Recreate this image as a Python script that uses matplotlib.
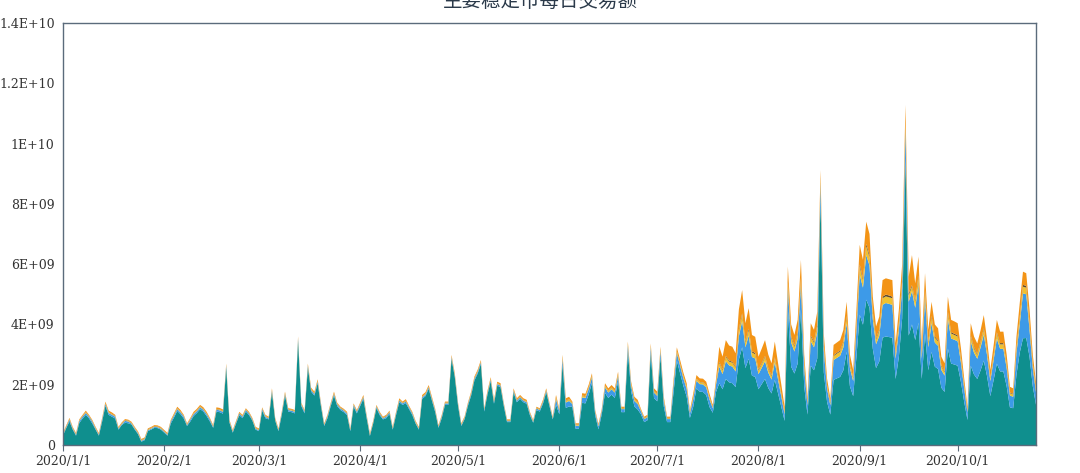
import matplotlib
matplotlib.use("Agg")
import matplotlib.pyplot as plt
import pandas as pd
import numpy as np

# daily volume, unit: 1e8 USD, from 2020/1/1
start_date = "2020-01-01"

teal = [
    3.1, 5.6, 7.8, 5.1, 3.1, 7.3, 8.8, 10.0, 8.8, 7.1,
    5.1, 3.1, 7.8, 13.0, 10.0, 9.4, 8.8, 5.1, 6.6, 7.4,
    7.2, 6.8, 5.1, 3.6, 1.1, 1.6, 4.6, 5.1, 5.7, 5.6,
    5.1, 4.1, 3.1, 7.1, 9.1, 11.3, 10.2, 8.8, 6.3, 7.8,
    9.6, 10.6, 11.9, 11.1, 9.6, 7.8, 5.7, 11.1, 10.9, 10.4,
    25.6, 7.4, 4.1, 7.1, 9.9, 8.9, 11.1, 9.9, 8.1, 5.1,
    4.6, 11.4, 8.9, 8.5, 17.5, 8.1, 4.6, 9.9, 16.4, 11.1,
    10.9, 10.5, 34.7, 12.9, 10.5, 25.7, 17.7, 16.4, 20.5, 12.9,
    6.3, 8.9, 12.9, 16.4, 12.9, 11.6, 10.9, 9.9, 4.6, 12.7,
    10.5, 12.9, 15.3, 8.9, 3.0, 7.1, 12.2, 9.9, 8.5, 8.9,
    10.3, 5.1, 9.9, 14.2, 13.3, 13.9, 11.9, 9.9, 7.1, 5.1,
    15.3, 16.2, 18.6, 14.7, 10.9, 5.7, 8.9, 13.3, 13.3, 28.6,
    22.5, 12.9, 6.3, 8.6, 12.9, 16.4, 21.4, 23.7, 26.9, 11.1,
    16.7, 21.2, 13.7, 19.7, 19.2, 12.9, 7.6, 7.6, 17.5, 14.2,
    15.3, 14.2, 13.7, 9.9, 7.4, 11.6, 11.1, 13.7, 17.5, 12.9,
    8.5, 13.4, 10.2, 26.7, 12.3, 12.8, 12.6, 5.4, 5.4, 14.0,
    13.8, 16.8, 20.6, 9.8, 5.2, 10.2, 17.3, 15.6, 16.7, 15.6,
    21.1, 10.9, 10.9, 31.1, 17.8, 12.8, 11.8, 10.2, 7.6, 8.2,
    30.5, 15.6, 14.5, 29.4, 12.8, 7.6, 7.6, 17.6, 28.0, 23.8,
    19.6, 16.1, 9.0, 12.6, 18.8, 17.7, 17.6, 16.6, 12.6, 10.7,
    17.6, 20.5, 18.5, 21.9, 20.8, 20.5, 19.2, 28.4, 32.4, 25.5,
    28.6, 23.0, 22.6, 18.5, 20.2, 21.9, 18.9, 17.1, 21.6, 17.1,
    12.6, 8.0, 45.0, 26.0, 23.7, 27.0, 45.0, 19.5, 10.1, 26.3,
    24.8, 28.7, 82.0, 24.1, 14.3, 10.1, 21.6, 22.1, 22.6, 24.8,
    30.9, 19.5, 16.2, 29.3, 43.2, 39.9, 48.2, 45.5, 32.0, 25.5,
    27.7, 35.6, 36.0, 35.8, 35.6, 21.9, 29.3, 42.0, 95.0, 36.3,
    40.0, 34.8, 40.6, 21.9, 37.1, 24.8, 30.9, 26.0, 25.2, 19.0,
    17.6, 32.0, 27.0, 26.7, 26.3, 20.9, 14.3, 8.3, 26.3, 23.4,
    21.9, 24.7, 28.0, 22.8, 16.2, 21.5, 27.0, 24.4, 24.4, 19.5,
    12.5, 12.2, 23.3, 30.6, 35.4, 35.5, 29.3, 19.5, 13.3,
]

blue = [
    .3, .3, .6, .3, .3, .6, .6, .6, .6, .6,
    .3, .3, .6, .6, .6, .6, .6, .3, .3, .6,
    .6, .3, .3, .3, .3, .3, .3, .3, .3, .3,
    .3, .3, .3, .6, .6, .6, .6, .6, .3, .6,
    .6, .6, .6, .6, .6, .6, .3, .6, .6, .6,
    .6, .3, .3, .3, .5, .5, .5, .5, .3, .3,
    .3, .5, .5, .3, .5, .3, .3, .5, .5, .5,
    .5, .5, .5, .5, .5, .5, .5, .5, .5, .5,
    .3, .5, .5, .5, .5, .5, .5, .5, .3, .5,
    .5, .5, .5, .5, .3, .3, .5, .5, .3, .5,
    .5, .3, .5, .5, .5, .5, .5, .5, .3, .3,
    .5, .5, .5, .5, .5, .3, .5, .5, .5, .5,
    .5, .5, .3, .3, .5, .5, .5, .5, .5, .5,
    .5, .5, .5, .5, .5, .5, .3, .3, .5, .5,
    .5, .5, .5, .5, .3, .5, .5, .5, .5, .5,
    .3, 1.8, 1.0, 1.8, 1.8, 1.8, 1.0, 1.0, 1.0, 1.8,
    1.8, 1.8, 1.8, 1.0, 1.0, 1.0, 1.8, 1.8, 1.8, 1.8,
    1.8, 1.0, 1.0, 1.8, 1.8, 1.8, 1.8, 1.0, 1.0, 1.0,
    1.8, 1.8, 1.8, 1.8, 1.8, 1.0, 1.0, 2.5, 2.5, 2.5,
    2.5, 2.5, 1.5, 2.5, 2.5, 2.5, 2.5, 2.5, 2.5, 1.5,
    2.5, 5.5, 5.0, 5.9, 5.6, 5.5, 5.2, 7.7, 8.7, 6.9,
    7.7, 6.2, 6.1, 5.0, 5.4, 5.9, 5.1, 4.6, 5.8, 4.6,
    3.4, 2.2, 7.0, 8.0, 7.3, 8.3, 8.0, 6.0, 3.1, 8.1,
    7.6, 8.8, 5.0, 7.4, 4.4, 3.1, 6.6, 6.8, 7.0, 7.6,
    9.5, 6.0, 5.0, 9.0, 13.3, 12.3, 14.8, 14.0, 9.8, 7.9,
    8.5, 10.9, 11.1, 11.0, 10.9, 6.7, 9.0, 10.0, 10.0, 11.2,
    11.0, 10.7, 12.5, 6.7, 11.4, 7.6, 9.5, 8.0, 7.7, 5.9,
    5.4, 9.8, 8.3, 8.2, 8.1, 6.4, 4.4, 2.5, 8.1, 7.2,
    6.7, 7.6, 8.6, 7.0, 5.0, 6.6, 8.3, 7.5, 7.5, 6.0,
    3.9, 3.8, 7.2, 9.4, 14.9, 14.5, 9.0, 6.0, 4.1,
]

yellow = [
    .2, .2, .2, .2, .2, .2, .2, .2, .2, .2,
    .2, .2, .2, .2, .2, .2, .2, .2, .2, .2,
    .2, .2, .2, .2, .2, .2, .2, .2, .2, .2,
    .2, .2, .2, .2, .2, .2, .2, .2, .2, .2,
    .2, .2, .2, .2, .2, .2, .2, .2, .2, .2,
    .2, .2, .2, .2, .2, .2, .2, .2, .2, .2,
    .2, .2, .2, .2, .2, .2, .2, .2, .2, .2,
    .2, .2, .2, .2, .2, .2, .2, .2, .2, .2,
    .2, .2, .2, .2, .2, .2, .2, .2, .2, .2,
    .2, .2, .2, .2, .2, .2, .2, .2, .2, .2,
    .2, .2, .2, .2, .2, .2, .2, .2, .2, .2,
    .2, .2, .2, .2, .2, .2, .2, .2, .2, .2,
    .2, .2, .2, .2, .2, .2, .2, .2, .2, .2,
    .2, .2, .2, .2, .2, .2, .2, .2, .2, .2,
    .2, .2, .2, .2, .2, .2, .2, .2, .2, .2,
    .2, .5, .3, .5, .5, .5, .3, .3, .3, .5,
    .5, .5, .5, .3, .3, .3, .5, .5, .5, .5,
    .5, .3, .3, .5, .5, .5, .5, .3, .3, .3,
    .5, .5, .5, .5, .5, .3, .3, .6, .6, .6,
    .6, .6, .4, .6, .6, .6, .6, .6, .6, .4,
    .6, 1.3, 1.2, 1.4, 1.3, 1.3, 1.2, 1.8, 2.1, 1.6,
    1.8, 1.5, 1.4, 1.2, 1.3, 1.4, 1.2, 1.1, 1.4, 1.1,
    .8, .5, 2.0, 1.6, 1.5, 1.7, 2.0, 1.2, .6, 1.6,
    1.5, 1.8, 1.5, 1.5, .9, .6, 1.3, 1.4, 1.4, 1.5,
    1.9, 1.2, 1.0, 1.8, 2.7, 2.5, 3.0, 2.8, 2.0, 1.6,
    1.7, 2.2, 2.2, 2.2, 2.2, 1.3, 1.8, 2.2, 2.0, 2.2,
    1.5, 2.1, 2.5, 1.3, 2.3, 1.5, 1.9, 1.6, 1.5, 1.2,
    1.1, 2.0, 1.7, 1.6, 1.6, 1.3, .9, .5, 1.6, 1.4,
    1.3, 1.5, 1.7, 1.4, 1.0, 1.3, 1.7, 1.5, 1.5, 1.2,
    .8, .8, 1.4, 1.9, 2.2, 2.2, 1.8, 1.2, .8,
]

dark = [
    .1, .1, .1, .1, .1, .1, .1, .1, .1, .1,
    .1, .1, .1, .1, .1, .1, .1, .1, .1, .1,
    .1, .1, .1, .1, .1, .1, .1, .1, .1, .1,
    .1, .1, .1, .1, .1, .1, .1, .1, .1, .1,
    .1, .1, .1, .1, .1, .1, .1, .1, .1, .1,
    .1, .1, .1, .1, .1, .1, .1, .1, .1, .1,
    .1, .1, .1, .1, .1, .1, .1, .1, .1, .1,
    .1, .1, .1, .1, .1, .1, .1, .1, .1, .1,
    .1, .1, .1, .1, .1, .1, .1, .1, .1, .1,
    .1, .1, .1, .1, .1, .1, .1, .1, .1, .1,
    .1, .1, .1, .1, .1, .1, .1, .1, .1, .1,
    .1, .1, .1, .1, .1, .1, .1, .1, .1, .1,
    .1, .1, .1, .1, .1, .1, .1, .1, .1, .1,
    .1, .1, .1, .1, .1, .1, .1, .1, .1, .1,
    .1, .1, .1, .1, .1, .1, .1, .1, .1, .1,
    .1, .1, .1, .1, .1, .1, .1, .1, .1, .1,
    .1, .1, .1, .1, .1, .1, .1, .1, .1, .1,
    .1, .1, .1, .1, .1, .1, .1, .1, .1, .1,
    .1, .1, .1, .1, .1, .1, .1, .1, .1, .1,
    .1, .1, .1, .1, .1, .1, .1, .1, .1, .1,
    .1, .3, .3, .3, .3, .3, .3, .5, .5, .4,
    .5, .4, .4, .3, .3, .3, .3, .3, .3, .3,
    .2, .1, .3, .4, .4, .4, .4, .3, .2, .4,
    .4, .4, .2, .4, .2, .2, .3, .3, .3, .4,
    .5, .3, .2, .5, .7, .6, .7, .7, .5, .4,
    .4, .5, .6, .6, .5, .3, .5, .5, .3, .6,
    .5, .5, .6, .3, .6, .4, .5, .4, .4, .3,
    .3, .5, .4, .4, .4, .3, .2, .1, .4, .4,
    .3, .4, .4, .4, .2, .3, .4, .4, .4, .3,
    .2, .2, .4, .5, .6, .6, .5, .3, .2,
]

orange = [
    .3, .3, .3, .3, .3, .3, .3, .5, .3, .3,
    .3, .3, .3, .5, .5, .5, .3, .3, .3, .3,
    .3, .3, .3, .3, .3, .3, .3, .3, .3, .3,
    .3, .3, .3, .3, .5, .5, .5, .3, .3, .3,
    .5, .5, .5, .5, .5, .3, .3, .5, .5, .5,
    .5, .3, .3, .3, .3, .3, .3, .3, .3, .3,
    .3, .3, .3, .3, .5, .3, .3, .3, .5, .3,
    .3, .3, .5, .3, .3, .5, .5, .5, .5, .3,
    .3, .3, .3, .5, .3, .3, .3, .3, .3, .3,
    .3, .3, .5, .3, .3, .3, .3, .3, .3, .3,
    .3, .3, .3, .5, .3, .5, .3, .3, .3, .3,
    .5, .5, .5, .5, .3, .3, .3, .3, .3, .5,
    .5, .3, .3, .3, .3, .5, .5, .5, .5, .3,
    .5, .5, .5, .5, .5, .3, .3, .3, .5, .5,
    .5, .5, .5, .3, .3, .3, .3, .5, .5, .3,
    .3, .8, .4, .8, .8, .8, .4, .4, .4, .8,
    .8, .8, .8, .4, .4, .4, .8, .8, .8, .8,
    .8, .4, .4, .8, .8, .8, .8, .4, .4, .4,
    .8, .8, .8, .8, .8, .4, .4, 1.2, 1.2, 1.2,
    1.2, 1.2, .6, 1.2, 1.2, 1.2, 1.2, 1.2, 1.2, .6,
    1.2, 5.0, 4.3, 5.3, 5.0, 5.0, 4.5, 6.6, 7.7, 6.0,
    6.8, 5.4, 5.4, 4.3, 4.8, 5.3, 4.5, 4.0, 5.2, 4.0,
    3.0, 1.9, 4.9, 4.0, 3.6, 4.1, 6.0, 3.0, 1.5, 4.0,
    3.9, 4.5, 2.5, 3.6, 2.2, 1.5, 3.4, 3.4, 3.5, 3.9,
    4.7, 3.0, 2.5, 4.4, 6.5, 6.1, 7.4, 7.0, 4.9, 3.9,
    4.3, 5.5, 5.4, 5.4, 5.5, 3.5, 4.4, 5.3, 5.5, 5.5,
    10.0, 5.5, 6.3, 3.5, 5.6, 3.9, 4.7, 4.0, 3.9, 2.9,
    2.7, 4.9, 4.1, 4.1, 4.0, 3.2, 2.2, 1.3, 4.0, 3.6,
    3.5, 3.8, 4.4, 3.4, 2.5, 3.3, 4.1, 3.8, 3.8, 3.0,
    1.9, 1.8, 3.6, 4.6, 4.4, 4.2, 4.4, 3.0, 2.1,
]

y_ticks = [0, 2e9, 4e9, 6e9, 8e9, 1e10, 1.2e10, 1.4e10]
y_labels = ["0", "2E+09", "4E+09", "6E+09", "8E+09", "1E+10", "1.2E+10", "1.4E+10"]
month_ticks = ["2020-01-01", "2020-02-01", "2020-03-01", "2020-04-01", "2020-05-01",
               "2020-06-01", "2020-07-01", "2020-08-01", "2020-09-01", "2020-10-01"]
month_labels = ["2020/1/1", "2020/2/1", "2020/3/1", "2020/4/1", "2020/5/1",
                "2020/6/1", "2020/7/1", "2020/8/1", "2020/9/1", "2020/10/1"]

colors = ["#0f8f8e", "#3d9ae8", "#f0c230", "#5e4a2c", "#f39416"]

dates = pd.date_range(start_date, periods=len(teal), freq="D")
series = [np.array(s) * 1e8 for s in (teal, blue, yellow, dark, orange)]

fig = plt.figure(figsize=(10.8, 4.73), dpi=100)
ax = fig.add_axes([0.0583, 0.0592, 0.9010, 0.8922])

ax.stackplot(dates, *series, colors=colors, linewidth=0, antialiased=True)

ax.set_xlim(dates[0], dates[-1])
ax.set_ylim(0, 1.4e10)
ax.set_yticks(y_ticks)
ax.set_yticklabels(y_labels)
ax.set_xticks(pd.to_datetime(month_ticks))
ax.set_xticklabels(month_labels)

for sp in ax.spines.values():
    sp.set_color("#5b6b7b")
    sp.set_linewidth(1.0)

ax.tick_params(axis="y", length=0, pad=6, labelsize=9, labelcolor="#333333")
ax.tick_params(axis="x", length=4, width=0.8, color="#5b6b7b", pad=3,
               labelsize=9, labelcolor="#333333")
for lab in ax.get_xticklabels() + ax.get_yticklabels():
    lab.set_family("DejaVu Serif")

# title sits at the very top edge, as in the source image
fig.text(0.5, 0.998, "主要稳定币每日交易额", ha="center", va="center",
         fontsize=14, color="#2b3a4a", family=["Noto Sans CJK SC", "DejaVu Sans"])

fig.savefig("out.png", dpi=100)
